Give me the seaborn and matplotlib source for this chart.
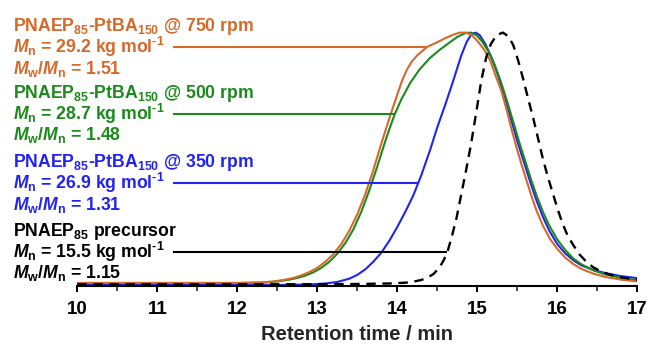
import matplotlib
matplotlib.use("Agg")
import matplotlib.pyplot as plt
import matplotlib.transforms as mtransforms
from matplotlib.ticker import MultipleLocator
import seaborn as sns
import pandas as pd

# GPC traces (normalised RI response vs retention time)
t_750 = [10.0, 12.0, 12.3, 12.45, 12.6, 12.7, 12.8, 12.9, 13.0, 13.1, 13.2, 13.3, 13.4,
         13.5, 13.6, 13.7, 13.8, 13.9, 14.0, 14.06, 14.12, 14.18, 14.25, 14.37, 14.5, 14.6,
         14.7, 14.78, 14.86, 14.93, 15.0, 15.08, 15.16, 15.24, 15.3, 15.37, 15.43, 15.49,
         15.56, 15.62, 15.68, 15.74, 15.82, 15.91, 16.0, 16.1, 16.2, 16.3, 16.45, 16.6,
         16.8, 17.0]
y_750 = [0.008, 0.008, 0.010, 0.014, 0.021, 0.028, 0.038, 0.051, 0.068, 0.092, 0.122, 0.162,
         0.215, 0.28, 0.36, 0.455, 0.56, 0.66, 0.755, 0.81, 0.853, 0.885, 0.91, 0.943, 0.962,
         0.978, 0.992, 1.0, 1.0, 0.99, 0.968, 0.935, 0.89, 0.82, 0.77, 0.69, 0.615, 0.545,
         0.47, 0.41, 0.35, 0.295, 0.235, 0.182, 0.143, 0.108, 0.083, 0.064, 0.045, 0.032,
         0.021, 0.014]

t_500 = [10.0, 12.0, 12.35, 12.5, 12.65, 12.75, 12.85, 12.95, 13.05, 13.15, 13.25, 13.35,
         13.45, 13.55, 13.65, 13.75, 13.85, 13.92, 13.97, 14.05, 14.16, 14.28, 14.41, 14.53,
         14.65, 14.75, 14.85, 14.92, 14.99, 15.06, 15.14, 15.22, 15.3, 15.38, 15.46, 15.53,
         15.6, 15.67, 15.74, 15.82, 15.9, 16.0, 16.1, 16.2, 16.3, 16.45, 16.6, 16.8, 17.0]
y_500 = [0.008, 0.008, 0.010, 0.014, 0.021, 0.028, 0.037, 0.05, 0.068, 0.092, 0.124, 0.166,
         0.22, 0.29, 0.375, 0.47, 0.57, 0.635, 0.678, 0.735, 0.80, 0.855, 0.90, 0.932,
         0.96, 0.983, 0.998, 1.0, 0.99, 0.965, 0.925, 0.87, 0.80, 0.72, 0.635, 0.56,
         0.49, 0.42, 0.355, 0.29, 0.235, 0.18, 0.138, 0.105, 0.082, 0.058, 0.042, 0.028, 0.019]

t_350 = [10.0, 12.5, 12.9, 13.1, 13.25, 13.4, 13.5, 13.6, 13.7, 13.8, 13.9, 14.0, 14.1,
         14.2, 14.3, 14.41, 14.5, 14.6, 14.7, 14.8, 14.87, 14.93, 14.98, 15.03, 15.1, 15.18,
         15.26, 15.34, 15.42, 15.5, 15.58, 15.66, 15.74, 15.82, 15.9, 16.0, 16.1, 16.2, 16.3,
         16.45, 16.6, 16.8, 17.0]
y_350 = [0.0, 0.0, 0.002, 0.006, 0.012, 0.025, 0.04, 0.062, 0.092, 0.128, 0.175, 0.23, 0.29,
         0.355, 0.435, 0.535, 0.625, 0.715, 0.81, 0.91, 0.965, 0.995, 1.0, 0.99, 0.955, 0.90,
         0.83, 0.75, 0.66, 0.57, 0.49, 0.41, 0.335, 0.27, 0.215, 0.162, 0.125, 0.098, 0.078,
         0.06, 0.047, 0.035, 0.027]

t_pre = [10.0, 13.0, 13.5, 13.9, 14.1, 14.2, 14.3, 14.37, 14.45, 14.52, 14.58, 14.63, 14.68,
         14.74, 14.8, 14.86, 14.92, 14.99, 15.05, 15.11, 15.17, 15.24, 15.32, 15.39, 15.45,
         15.51, 15.57, 15.63, 15.7, 15.76, 15.82, 15.88, 15.95, 16.01, 16.07, 16.13, 16.2,
         16.28, 16.37, 16.45, 16.55, 16.65, 16.8, 17.0]
y_pre = [0.003, 0.003, 0.004, 0.006, 0.009, 0.013, 0.02, 0.028, 0.043, 0.066, 0.098, 0.135,
         0.19, 0.265, 0.36, 0.455, 0.555, 0.69, 0.81, 0.90, 0.955, 0.99, 1.0, 0.985, 0.95,
         0.89, 0.82, 0.745, 0.66, 0.58, 0.50, 0.43, 0.357, 0.295, 0.24, 0.195, 0.158,
         0.12, 0.09, 0.07, 0.053, 0.042, 0.03, 0.021]

# Sample annotations
titles = ["PNAEP$_\\mathrm{85}$-PtBA$_\\mathrm{150}$ @ 750 rpm",
          "PNAEP$_\\mathrm{85}$-PtBA$_\\mathrm{150}$ @ 500 rpm",
          "PNAEP$_\\mathrm{85}$-PtBA$_\\mathrm{150}$ @ 350 rpm",
          "PNAEP$_\\mathrm{85}$ precursor"]
mn_values = ["29.2", "28.7", "26.9", "15.5"]
dispersity = ["1.51", "1.48", "1.31", "1.15"]
leader_start = 11.19
leader_end = [14.37, 13.97, 14.26, 14.62]
leader_y = [0.943, 0.678, 0.404, 0.131]

colors = ["#D4692A", "#1B8A1B", "#2323F0", "#000000"]

sns.set_style("white")
plt.rcParams["font.family"] = ["Liberation Sans", "DejaVu Sans"]
plt.rcParams["font.weight"] = "bold"
plt.rcParams["mathtext.fontset"] = "custom"
plt.rcParams["mathtext.rm"] = "Liberation Sans:bold"
plt.rcParams["mathtext.bf"] = "Liberation Sans:bold"
plt.rcParams["mathtext.sf"] = "Liberation Sans:bold"
plt.rcParams["mathtext.it"] = "Liberation Sans:bold:italic"

fig = plt.figure(figsize=(6.48, 3.45), dpi=100)
ax = fig.add_axes([77.3 / 648, 1 - 286 / 345, 560 / 648, 266 / 345])

series = [(t_350, y_350, colors[2]), (t_500, y_500, colors[1]), (t_750, y_750, colors[0])]
for t, y, c in series:
    df = pd.DataFrame({"t": t, "y": y})
    sns.lineplot(data=df, x="t", y="y", color=c, lw=1.5, estimator=None, ax=ax)

df_pre = pd.DataFrame({"t": t_pre, "y": y_pre})
sns.lineplot(data=df_pre, x="t", y="y", color="black", lw=1.7, estimator=None, ax=ax)
ax.get_lines()[-1].set_dashes((4.0, 2.8))

# Leader lines joining each label block to its trace
for xe, ye, c in zip(leader_end, leader_y, colors):
    ax.plot([leader_start, xe], [ye, ye], color=c, lw=1.5, solid_capstyle="butt")

blend = mtransforms.blended_transform_factory(fig.transFigure, ax.transData)
x_text = 13 / 648
fs = 12.7
for title, mn, d, ye, c in zip(titles, mn_values, dispersity, leader_y, colors):
    ax.annotate(title, xy=(x_text, ye), xycoords=blend, xytext=(0, 11.5),
                textcoords="offset points", va="baseline", ha="left",
                color=c, fontsize=fs, fontweight="bold", annotation_clip=False)
    ax.annotate("$M_\\mathrm{n}$ = " + mn + " kg mol$^\\mathrm{\u2010 1}$", xy=(x_text, ye),
                xycoords=blend, xytext=(0, -4.3), textcoords="offset points",
                va="baseline", ha="left", color=c, fontsize=fs, fontweight="bold",
                annotation_clip=False)
    ax.annotate("$M_\\mathrm{w}$/$M_\\mathrm{n}$ = " + d, xy=(x_text, ye), xycoords=blend,
                xytext=(0, -19.1), textcoords="offset points", va="baseline", ha="left",
                color=c, fontsize=fs, fontweight="bold", annotation_clip=False)

ax.set_xlim(10, 17)
ax.set_ylim(-0.004, 1.05)
ax.xaxis.set_major_locator(MultipleLocator(1))
ax.xaxis.set_minor_locator(MultipleLocator(0.5))
ax.set_yticks([])
ax.set_ylabel("")
ax.set_xlabel("Retention time / min", fontsize=14.5, fontweight="bold", labelpad=4.5)
for side in ["left", "right", "top"]:
    ax.spines[side].set_visible(False)
ax.spines["bottom"].set_linewidth(1.5)
ax.spines["bottom"].set_color("black")
ax.tick_params(axis="x", which="major", direction="out", length=4, width=1.4,
               bottom=True, labelsize=13.5, pad=7, colors="black")
ax.tick_params(axis="x", which="minor", direction="out", length=3.5, width=1.2, bottom=True)
for lab in ax.get_xticklabels():
    lab.set_fontweight("bold")

fig.savefig("out.png", dpi=100)
